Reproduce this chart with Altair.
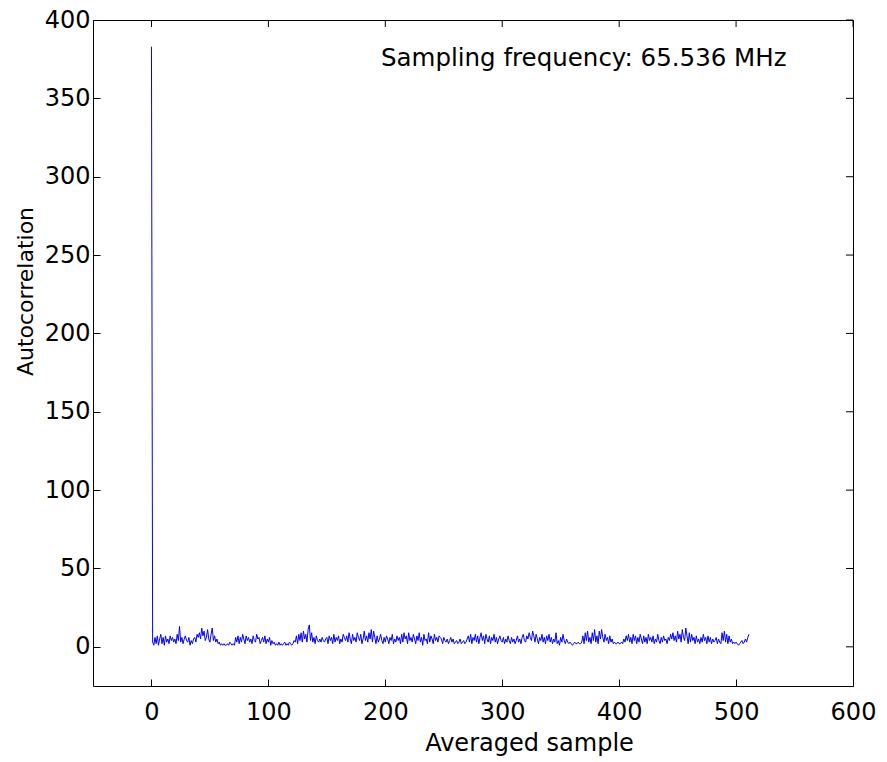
import altair as alt
import pandas as pd

# ---- data ----
lag_0 = [383]
seg_1 = [3, 1, 6, 2, 7, 1, 5, 8, 2, 6,
         1, 7, 3, 5, 2, 7, 4, 6, 3, 5,
         2, 8, 4, 13, 3, 6, 2, 5, 7, 4,
         3, 6, 1, 4, 2, 5, 6, 3, 8, 6,
         9, 5, 12, 7, 10, 4, 6, 11, 5, 3,
         8, 12, 4, 7, 3, 5, 2, 3, 1, 2,
         1, 2, 1, 1, 2, 1, 3, 2, 1, 2,
         1, 6, 3, 7, 2]
seg_2 = [6, 3, 8, 5, 2, 7, 4, 6, 3, 5,
         2, 7, 4, 3, 8, 5, 6, 2, 4, 6,
         3, 7, 2, 5, 3, 6, 1, 4, 2, 3,
         1, 2, 1, 3, 1, 2, 1, 2, 3, 1,
         2, 1, 3, 2, 1, 2, 4, 3, 7, 2,
         8, 4, 9, 3, 10, 5, 8, 3, 11, 14,
         4, 9, 3, 6, 2, 7, 4, 3, 5, 3,
         6, 4, 3, 5, 6]
seg_3 = [2, 7, 4, 6, 2, 8, 3, 6, 4, 7,
         2, 5, 3, 8, 6, 4, 7, 3, 9, 5,
         2, 8, 4, 6, 3, 9, 6, 4, 8, 2,
         5, 10, 4, 7, 3, 9, 5, 11, 3, 10,
         6, 2, 7, 3, 5, 8, 4, 2, 6, 3,
         7, 5, 2, 6, 4, 8, 2, 5, 3, 7,
         4, 6, 2, 8, 3, 9, 5, 7, 2, 9,
         4, 6, 3, 8, 5]
seg_4 = [2, 7, 4, 9, 3, 6, 1, 8, 4, 5,
         2, 9, 3, 7, 5, 2, 8, 4, 6, 3,
         7, 6, 5, 2, 6, 4, 3, 5, 2, 4,
         6, 3, 5, 2, 3, 4, 2, 3, 5, 2,
         3, 4, 2, 3, 5, 7, 3, 8, 2, 6,
         4, 8, 3, 7, 2, 6, 9, 4, 7, 2,
         8, 5, 3, 7, 2, 6, 4, 8, 3, 6,
         2, 5, 7, 4, 3]
seg_5 = [6, 2, 5, 3, 7, 4, 2, 6, 3, 5,
         2, 4, 7, 3, 5, 2, 6, 8, 4, 3,
         7, 5, 9, 6, 4, 10, 7, 3, 8, 5,
         2, 6, 4, 8, 3, 6, 2, 7, 4, 8,
         3, 6, 2, 5, 3, 9, 2, 4, 1, 6,
         3, 8, 4, 2, 5, 3, 2, 3, 2, 1,
         2, 3, 2, 2, 3, 2, 2, 3, 7, 2,
         9, 4, 10, 3, 6, 2]
seg_6 = [9, 4, 11, 3, 7, 2, 10, 5, 11, 6,
         3, 8, 4, 6, 2, 7, 3, 5, 2, 3,
         2, 2, 3, 2, 2, 3, 2, 5, 3, 7,
         4, 8, 3, 6, 2, 8, 4, 7, 2, 6,
         3, 8, 5, 2, 7, 3, 6, 2, 8, 4,
         6, 3, 7, 2, 5, 3, 8, 4, 2, 6,
         3, 7, 4, 5, 2, 6, 4, 8, 5, 9,
         4, 7, 3, 10, 5]
seg_7 = [8, 3, 11, 6, 4, 12, 7, 2, 9, 3,
         8, 4, 6, 2, 7, 3, 5, 2, 6, 3,
         8, 4, 6, 2, 7, 3, 6, 2, 5, 3,
         4, 6, 2, 5, 3, 2, 9, 4, 10, 3,
         8, 2, 7, 3, 5, 2, 3, 2, 3, 2,
         1, 2, 3, 4, 2, 3, 5, 3, 6, 8]

autocorr = lag_0 + seg_1 + seg_2 + seg_3 + seg_4 + seg_5 + seg_6 + seg_7
samples = list(range(len(autocorr)))

x_ticks = [0, 100, 200, 300, 400, 500, 600]
y_ticks = [0, 50, 100, 150, 200, 250, 300, 350, 400]
x_title = "Averaged sample"
y_title = "Autocorrelation"
note = "Sampling frequency: 65.536 MHz"

# ---- chart ----
W, H = 760, 666
FONT = "DejaVu Sans"
FS = 24

df = pd.DataFrame({"sample": samples, "value": autocorr})
x_scale = alt.Scale(domain=[-50, 600], nice=False, zero=False)
y_scale = alt.Scale(domain=[-25, 400], nice=False, zero=False)

common_axis = dict(grid=False, domain=False, tickSize=7, tickColor="black",
                   tickWidth=1, offset=-7, labelFont=FONT, labelFontSize=FS,
                   labelColor="black", titleFont=FONT, titleFontWeight="normal",
                   titleColor="black", labelFlush=False, labelOverlap=False,
                   labelBound=False)

x_axis = alt.Axis(values=x_ticks, title=x_title, labelPadding=14,
                  titleFontSize=FS, titleX=436, titleY=71,
                  titleBaseline="alphabetic", titleAlign="center",
                  **common_axis)
y_axis = alt.Axis(values=y_ticks, title=y_title, labelPadding=3,
                  titleFontSize=22, titleX=-75, titleY=271,
                  titleAngle=-90, titleBaseline="middle",
                  titleAlign="center", **common_axis)

line = alt.Chart(df).mark_line(color="#0000ff", strokeWidth=1, clip=True).encode(
    x=alt.X("sample:Q", scale=x_scale, axis=x_axis, title=x_title),
    y=alt.Y("value:Q", scale=y_scale, axis=y_axis, title=y_title),
)

top_ticks = alt.Chart(pd.DataFrame({"sample": x_ticks})).mark_rule(
    color="black", strokeWidth=1).encode(
    x=alt.X("sample:Q", scale=x_scale, axis=x_axis, title=x_title),
    y=alt.value(0), y2=alt.value(7))

right_ticks = alt.Chart(pd.DataFrame({"value": y_ticks})).mark_rule(
    color="black", strokeWidth=1).encode(
    y=alt.Y("value:Q", scale=y_scale, axis=y_axis, title=y_title),
    x=alt.value(W - 7), x2=alt.value(W))

label = alt.Chart(pd.DataFrame({"label": [note]})).mark_text(
    align="left", baseline="alphabetic", font=FONT, fontSize=24.5,
    color="black").encode(
    x=alt.value(288), y=alt.value(46), text="label:N")

chart = alt.layer(line, top_ticks, right_ticks, label).properties(
    width=W, height=H,
    autosize=alt.AutoSizeParams(type="none"),
    padding={"left": 93, "top": 20, "right": 34, "bottom": 76},
).configure(background="white").configure_view(stroke="black", strokeWidth=1)

chart.save("out.html", embed_options={"renderer": "svg", "actions": False})
